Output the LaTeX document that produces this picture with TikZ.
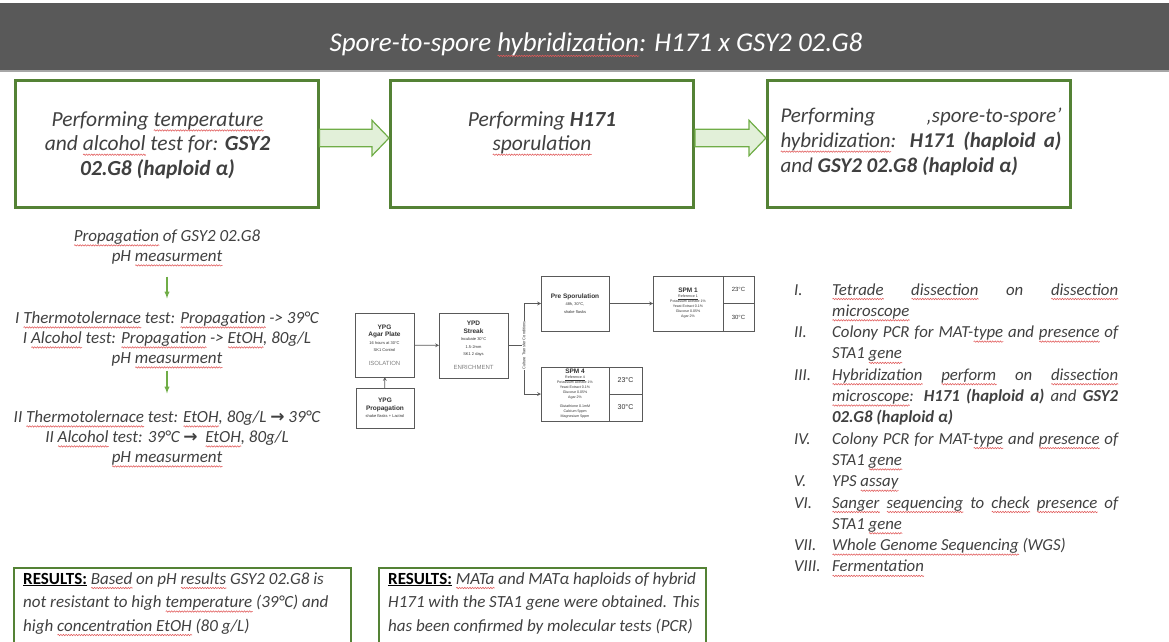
\documentclass[tikz,border=0pt]{standalone}
\usepackage{fontspec}
\setmainfont{Carlito}
\newfontfamily\arialfont{Liberation Sans}
\newfontfamily\symfont{DejaVu Sans}
\usetikzlibrary{decorations.pathmorphing}

\definecolor{headgray}{HTML}{595959}
\definecolor{boxgreen}{HTML}{548235}
\definecolor{arrowgreen}{HTML}{70AD47}
\definecolor{arrowfill}{HTML}{E2F0D9}
\definecolor{textgray}{HTML}{404040}
\definecolor{wavered}{HTML}{E05A5A}

\hyphenpenalty=10000
\exhyphenpenalty=10000

% red spell-check wave under a word
\newsavebox\wvbox
\newlength\wvlen
\newcommand\wv[1]{\sbox\wvbox{#1}\setlength\wvlen{\wd\wvbox}\leavevmode
  \rlap{\tikz[baseline=0pt]\draw[draw=wavered,fill=none,line width=0.55pt,decorate,
    decoration={snake,amplitude=0.7pt,segment length=2.6pt}] (0pt,-4pt) -- (\wvlen,-4pt);}\usebox\wvbox}
\newcommand\rarr{{\symfont\upshape\bfseries →}}
\newcommand\fct[1]{{\fontsize{6.5}{7.5}\selectfont\bfseries #1}}
\newcommand\fctag[1]{{\fontsize{6}{7.5}\selectfont\color{black!50}#1}}

\begin{document}
\begin{tikzpicture}[x=1pt,y=-1pt,
    topbox/.style={draw=boxgreen,line width=3pt,minimum width=303pt,minimum height=127pt,inner sep=0pt},
    boxtext/.style={align=center,font=\fontsize{21.5}{24.3}\selectfont\itshape,text=textgray,inner sep=0pt},
    blockarrow/.style={draw=arrowgreen,fill=arrowfill,line width=1.2pt,line join=miter},
    lefttext/.style={align=center,font=\fontsize{17}{20}\selectfont\itshape,text=textgray,inner sep=0pt},
    greenarrow/.style={-latex,draw=arrowgreen,line width=1.3pt},
    fcbox/.style={draw=black!65,line width=0.7pt,fill=white,align=center,inner sep=0pt,outer sep=0pt,
      font=\arialfont\fontsize{4}{7.5}\selectfont,text=black!80},
    fccell/.style={fcbox,font=\arialfont\fontsize{6}{7}\selectfont},
    fcline/.style={draw=black!65,line width=0.7pt},
    fcflow/.style={->,>=stealth,draw=black!65,line width=0.7pt},
    steptext/.style={inner sep=0pt,font=\fontsize{16.8}{21.3}\selectfont\itshape,text=textgray,anchor=base west},
    stepnum/.style={inner sep=0pt,font=\fontsize{16.8}{21.3}\selectfont\itshape,text=textgray,anchor=base west},
    resbox/.style={draw=boxgreen,line width=2pt,inner sep=0pt},
    restext/.style={align=left,font=\fontsize{17}{23.5}\selectfont\itshape,text=textgray,inner sep=0pt}]

  \useasboundingbox (0,0) rectangle (1169,642);
  \clip (0,0) rectangle (1169,642);

  % header
  \fill [headgray] (0,3) rectangle (1169,70);
  \draw [black!35,line width=2pt] (0,71) -- (1169,71);
  \node [text=white,font=\fontsize{27}{30}\selectfont\itshape,inner sep=0pt] (title) at (596,45)
    {Spore-to-spore \wv{hybridization}: H171 x GSY2 02.G8};

  % top boxes
  \node [topbox] (b1) at (166.5,144) {};
  \node [boxtext] (t1) at ([xshift=-9pt,yshift=-1pt]b1.center)
    {Performing \wv{temperature}\\and \wv{alcohol} test for: \textbf{GSY2}\\\textbf{02.G8 (haploid α)}};
  \node [topbox] (b2) at (542,144) {};
  \node [boxtext,anchor=north] (t2) at (b2.center |- t1.north)
    {Performing \textbf{H171}\\\wv{sporulation}};
  \node [topbox] (b3) at (919,144) {};
  \node [boxtext,text width=281pt,align=justify,font=\fontsize{21}{25}\selectfont\itshape] (t3) at ([xshift=2pt,yshift=2pt]b3.center)
    {Performing ‚spore-to-spore’\linebreak \wv{hybridization}: \textbf{H171 (haploid a)}\linebreak and \textbf{GSY2 02.G8 (haploid α)}};

  \draw [blockarrow] ([yshift=14.7pt]b1.east) -- ([xshift=-17pt,yshift=14.7pt]b2.west)
    -- ([xshift=-17pt,yshift=23.7pt]b2.west) -- ([yshift=6pt]b2.west) -- ([xshift=-17pt,yshift=-11.7pt]b2.west)
    -- ([xshift=-17pt,yshift=-2.7pt]b2.west) -- ([yshift=-2.7pt]b1.east) -- cycle;
  \draw [blockarrow] ([yshift=14.7pt]b2.east) -- ([xshift=-17pt,yshift=14.7pt]b3.west)
    -- ([xshift=-17pt,yshift=23.7pt]b3.west) -- ([yshift=6pt]b3.west) -- ([xshift=-17pt,yshift=-11.7pt]b3.west)
    -- ([xshift=-17pt,yshift=-2.7pt]b3.west) -- ([yshift=-2.7pt]b2.east) -- cycle;

  % left column
  \node [lefttext] (prop) at (167,248) {\wv{Propagation} of GSY2 02.G8\\pH \wv{measurment}};
  \node [lefttext] (test1) at (167,340)
    {I \wv{Thermotolernace} test: \wv{Propagation} -> 39°C\\I \wv{Alcohol} test: \wv{Propagation} -> \wv{EtOH}, 80g/L\\pH \wv{measurment}};
  \node [lefttext] (test2) at (167,439)
    {II \wv{Thermotolernace} test: \wv{EtOH}, 80g/L \rarr\ 39°C\\II \wv{Alcohol} test: 39°C \rarr\ \ \wv{EtOH}, 80g/L\\\wv{pH measurment}};
  \draw [greenarrow,shorten <=10pt,shorten >=13pt] (prop) -- (test1);
  \draw [greenarrow,shorten <=2pt,shorten >=17pt] (test1) -- (test2);

  % middle flow chart
  \node [fcbox,minimum width=59pt,minimum height=64pt] (agar) at (384.5,345)
    {\fct{YPG}\\\fct{Agar Plate}\\16 hours at 30°C\\SK1 Control\\[6pt]\fctag{ISOLATION}};
  \node [fcbox,minimum width=58pt,minimum height=40pt] (ypgprop) at (385,408)
    {\fct{YPG}\\\fct{Propagation}\\shake flasks + Lactrol};
  \node [fcbox,minimum width=69pt,minimum height=65pt] (ypd) at (473.5,345.5)
    {\fct{YPD}\\\fct{Streak}\\Incubate 30°C\\1.5-2mm\\SK1 2 days\\[6pt]\fctag{ENRICHMENT}};
  \node [fcbox,minimum width=68pt,minimum height=55pt] (pre) at (575,303.5)
    {\fct{Pre Sporulation}\\48h, 30°C,\\shake flasks};
  \node [fcbox,minimum width=70pt,minimum height=55pt,font=\arialfont\fontsize{3.6}{5}\selectfont] (spm1) at (688,303.5)
    {\fct{SPM 1}\\\underline{Reference 1}\\Potassium acetate 1\%\\Yeast Extract 0.1\%\\Glucose 0.05\%\\Agar 2\%};
  \node [fccell,minimum width=31pt,minimum height=27.5pt,anchor=north west] (spm1a) at (spm1.north east) {23°C};
  \node [fccell,minimum width=31pt,minimum height=27.5pt,anchor=north west] (spm1b) at (spm1a.south west) {30°C};
  \node [fcbox,minimum width=68pt,minimum height=54pt,font=\arialfont\fontsize{3.6}{5}\selectfont] (spm4) at (575,394)
    {\fct{SPM 4}\\\underline{Reference 4}\\Potassium acetate 1\%\\Yeast Extract 0.1\%\\Glucose 0.05\%\\Agar 2\%\\[4pt]Glutathione 0.1mM\\Calcium 5ppm\\Magnesium 5ppm};
  \node [fccell,minimum width=33pt,minimum height=27pt,anchor=north west,font=\arialfont\fontsize{7}{8}\selectfont] (spm4a) at (spm4.north east) {23°C};
  \node [fccell,minimum width=33pt,minimum height=27pt,anchor=north west,font=\arialfont\fontsize{7}{8}\selectfont] (spm4b) at (spm4a.south west) {30°C};

  \coordinate (bus) at (524,345.5);
  \draw [fcflow] (ypgprop) -- (agar);
  \draw [fcflow] (agar) -- (ypd);
  \draw [fcline] (ypd.east) -- (bus);
  \draw [fcline] (bus |- pre.west) -- (bus |- spm4.west);
  \draw [fcflow] (bus |- pre.west) -- (pre.west);
  \draw [fcflow] (bus |- spm4.west) -- (spm4.west);
  \draw [fcflow] (pre) -- (spm1);
  \node [rotate=90,fill=white,inner sep=0.5pt,font=\arialfont\fontsize{4}{5}\selectfont,text=black!80] (ctc) at (bus)
    {Culture Transfer Conditions};

  % right list
  \node [steptext] (s1) at (832,295) {\parbox[t]{286pt}{\wv{Tetrade} \wv{dissection} on \wv{dissection}\linebreak \wv{microscope}}};
  \node [steptext] (s2) at (832,337.6) {\parbox[t]{286pt}{Colony PCR for MAT-\wv{type} and \wv{presence} of\linebreak STA1 \wv{gene}}};
  \node [steptext] (s3) at (832,380.2) {\parbox[t]{286pt}{\wv{Hybridization} \wv{perform} on \wv{dissection}\linebreak \wv{microscope}: \textbf{H171 (haploid a)} and \textbf{GSY2}\linebreak \textbf{02.G8 (haploid α)}}};
  \node [steptext] (s4) at (832,444.1) {\parbox[t]{286pt}{Colony PCR for MAT-\wv{type} and \wv{presence} of\linebreak STA1 \wv{gene}}};
  \node [steptext] (s5) at (832,486.7) {YPS \wv{assay}};
  \node [steptext] (s6) at (832,508) {\parbox[t]{286pt}{\wv{Sanger} \wv{sequencing} to \wv{check} \wv{presence} of\linebreak STA1 \wv{gene}}};
  \node [steptext] (s7) at (832,550.6) {\wv{Whole Genome Sequencing} (WGS)};
  \node [steptext] (s8) at (832,571.9) {\wv{Fermentation}};
  \node [stepnum] (n1) at ([xshift=-38pt]s1.base west) {I.};
  \node [stepnum] (n2) at ([xshift=-38pt]s2.base west) {II.};
  \node [stepnum] (n3) at ([xshift=-38pt]s3.base west) {III.};
  \node [stepnum] (n4) at ([xshift=-38pt]s4.base west) {IV.};
  \node [stepnum] (n5) at ([xshift=-38pt]s5.base west) {V.};
  \node [stepnum] (n6) at ([xshift=-38pt]s6.base west) {VI.};
  \node [stepnum] (n7) at ([xshift=-38pt]s7.base west) {VII.};
  \node [stepnum] (n8) at ([xshift=-38pt]s8.base west) {VIII.};

  % results
  \node [resbox,minimum width=337pt,minimum height=110pt] (res1) at (182.5,623) {};
  \node [restext,anchor=north west] (res1t) at ([xshift=10pt,yshift=-5pt]res1.north west)
    {{\upshape\bfseries\color{black}\underline{RESULTS:}} \wv{Based} on pH \wv{results} GSY2 02.G8 is\\not resistant to high \wv{temperature} (39°C) and\\high \wv{concentration EtOH} (80 g/L)};
  \node [resbox,minimum width=327pt,minimum height=110pt] (res2) at (542.5,623) {};
  \node [restext,anchor=north west] (res2t) at ([xshift=10pt,yshift=-5pt]res2.north west)
    {{\upshape\bfseries\color{black}\underline{RESULTS:}} \wv{MATa} and MATα haploids of hybrid\\H171 with the STA1 gene were obtained. This\\has been confirmed by molecular tests (PCR)};

\end{tikzpicture}
\end{document}
